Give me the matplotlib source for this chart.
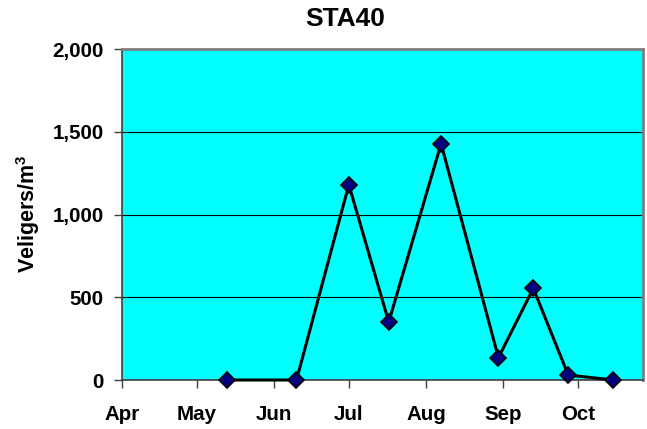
import matplotlib
matplotlib.use("Agg")
import matplotlib.pyplot as plt
from datetime import datetime

plt.rcParams['font.family'] = ['Liberation Sans', 'DejaVu Sans']
plt.rcParams['mathtext.fontset'] = 'custom'
plt.rcParams['mathtext.rm'] = 'Liberation Sans:bold'
plt.rcParams['mathtext.default'] = 'rm'

# Sampling dates and veliger densities at station 40
sample_dates = ["2000-05-13", "2000-06-10", "2000-07-01", "2000-07-17", "2000-08-07",
                "2000-08-30", "2000-09-13", "2000-09-27", "2000-10-15"]
veligers = [0, 0, 1180, 350, 1428, 135, 554, 30, 0]

month_labels = ["Apr", "May", "Jun", "Jul", "Aug", "Sep", "Oct"]
y_ticks = [0, 500, 1000, 1500, 2000]

dates = [datetime.strptime(d, "%Y-%m-%d") for d in sample_dates]

fig = plt.figure(figsize=(6.47, 4.29), dpi=100)
ax = fig.add_axes([122 / 647, 1 - 380 / 429, (643 - 122) / 647, (380 - 49) / 429])
ax.set_facecolor("#00FFFF")

ax.plot(dates, veligers, color="black", lw=2.2, marker="D", ms=8,
        markerfacecolor="#000080", markeredgecolor="black", markeredgewidth=1.2,
        zorder=3, clip_on=False)

ax.set_ylim(0, 2000)
ax.set_yticks(y_ticks)
ax.set_yticklabels([f"{v:,}" for v in y_ticks])
ax.yaxis.grid(True, color="black", lw=0.8)
ax.set_axisbelow(True)

ax.set_xlim(datetime(2000, 4, 1), datetime(2000, 10, 27))
month_starts = [datetime(2000, m, 1) for m in range(4, 11)]
ax.set_xticks(month_starts)
ax.set_xticklabels(month_labels)

for lab in ax.get_xticklabels() + ax.get_yticklabels():
    lab.set_fontweight("bold")
    lab.set_fontsize(14.8)

ax.tick_params(axis="y", direction="out", length=6, width=1, color="#404040", pad=7)
ax.tick_params(axis="x", direction="out", length=6, width=1, color="#404040", pad=12)

for side in ("top", "right"):
    ax.spines[side].set_color("#808080")
    ax.spines[side].set_linewidth(2)
for side in ("left", "bottom"):
    ax.spines[side].set_color("#404040")
    ax.spines[side].set_linewidth(1.2)

fig.text(345 / 647, 1 - 19 / 429, "STA40", ha="center", va="center",
         fontsize=19, fontweight="bold")
fig.text(28 / 647, 1 - 214 / 429, r"Veligers/m$^3$", ha="center", va="center",
         rotation=90, fontsize=15.5, fontweight="bold")

fig.savefig("out.png", dpi=100, facecolor="white")
